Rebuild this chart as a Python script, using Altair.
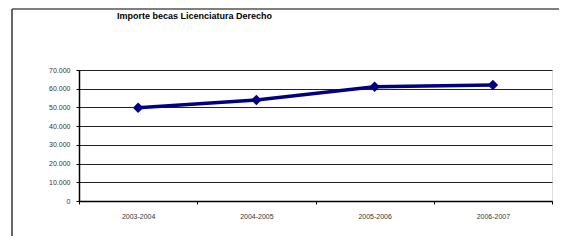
import altair as alt
import pandas as pd

title_text = "Importe becas Licenciatura Derecho"
periods = ["2003-2004", "2004-2005", "2005-2006", "2006-2007"]
importe = [49800, 54000, 61000, 62000]
y_ticks = [0, 10000, 20000, 30000, 40000, 50000, 60000, 70000]

df = pd.DataFrame({"periodo": periods, "importe": importe})

W, H = 473, 131

x_enc = alt.X("periodo:N", sort=periods, title=None,
              scale=alt.Scale(paddingInner=0, paddingOuter=0),
              axis=alt.Axis(labelAngle=0, labelFontSize=7, labelColor="#333333",
                            labelFont="Liberation Sans", labelPadding=8,
                            domainColor="#000000", domainWidth=1.5,
                            tickColor="#000000", tickSize=3, tickBand="extent",
                            grid=False))
y_enc = alt.Y("importe:Q", title=None,
              scale=alt.Scale(domain=[0, 70000], nice=False),
              axis=alt.Axis(values=y_ticks, labelFontSize=7, labelColor="#333333",
                            labelFont="Liberation Sans", labelPadding=6,
                            labelExpr="replace(format(datum.value, ','), ',', '.')",
                            domainColor="#000000", domainWidth=1.5,
                            tickColor="#000000", tickSize=3,
                            gridColor="#222222", gridWidth=1, gridOpacity=1))

line = alt.Chart(df).mark_line(color="#000080", strokeWidth=3.5).encode(x=x_enc, y=y_enc)
pts = alt.Chart(df).mark_point(shape="diamond", filled=True, color="#000080",
                               size=110, opacity=1).encode(x=x_enc, y=y_enc)

frame_df = pd.DataFrame({"k": [0]})
frame_left = alt.Chart(frame_df).mark_rule(color="#333333", strokeWidth=1.5).encode(
    x=alt.value(-67), y=alt.value(-61), y2=alt.value(200))
frame_top = alt.Chart(frame_df).mark_rule(color="#555555", strokeWidth=1.5).encode(
    x=alt.value(-67), x2=alt.value(500), y=alt.value(-61))
title = alt.Chart(frame_df).mark_text(text=title_text, fontSize=9, fontWeight="bold",
                                      font="Liberation Sans", align="left",
                                      baseline="middle", color="#000000").encode(
    x=alt.value(38), y=alt.value(-54))

chart = alt.layer(frame_left, frame_top, title, line, pts).properties(
    width=W, height=H,
    autosize=alt.AutoSizeParams(type="none"),
    padding={"left": 71, "top": 62, "right": 7, "bottom": 35},
).configure_view(stroke="#888888", strokeWidth=1.5).configure(background="white")

chart.save("out.html", embed_options={"renderer": "svg", "actions": False})
